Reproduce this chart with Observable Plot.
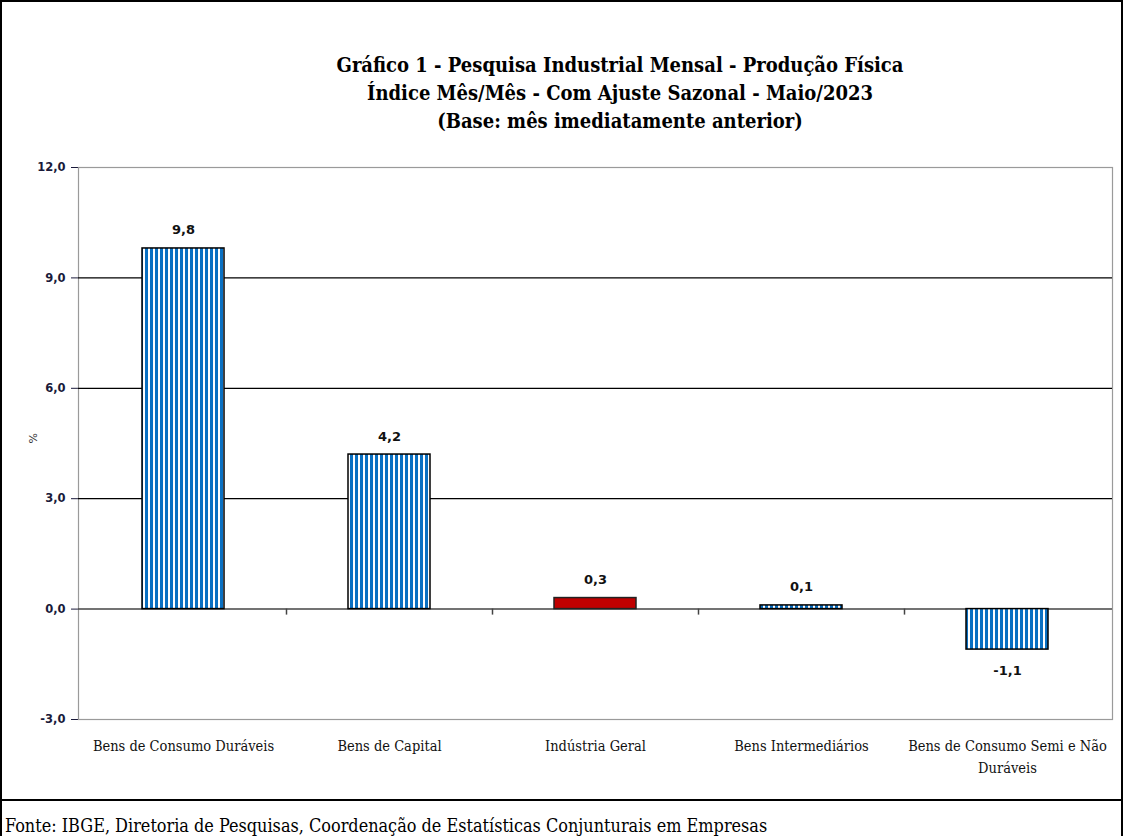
<!DOCTYPE html>
<html>
<head>
<meta charset="utf-8">
<script src="https://cdn.jsdelivr.net/npm/d3@7"></script>
<script src="https://cdn.jsdelivr.net/npm/@observablehq/plot@0.6"></script>
<style>
  html, body { margin: 0; padding: 0; background: #fff; }
  #page { position: relative; width: 1123px; height: 836px; overflow: hidden; background: #fff; }
  #border { position: absolute; left: 0; top: 0; width: 1123px; height: 836px; box-sizing: border-box; border: 2px solid #000; border-bottom: none; pointer-events: none; }
  #title { position: absolute; left: 270px; top: 51px; width: 700px; text-align: center;
    font-family: "DejaVu Serif Condensed", "DejaVu Serif", serif; font-stretch: condensed; font-weight: bold;
    font-size: 20px; line-height: 28px; color: #000; }
  #chart { position: absolute; left: 0; top: 140px; }
  #chart g[aria-label="y-axis tick label"] text { font-weight: bold; }
  #sep { position: absolute; left: 0; top: 799px; width: 1123px; height: 0; border-top: 2px solid #000; }
  #footer { position: absolute; left: 5px; top: 815px; font-family: "DejaVu Serif Condensed", "DejaVu Serif", serif;
    font-stretch: condensed; font-size: 17.9px; color: #000; white-space: nowrap; }
</style>
</head>
<body>
<div id="page">
  <div id="title">Gráfico 1 - Pesquisa Industrial Mensal - Produção Física<br>Índice Mês/Mês - Com Ajuste Sazonal - Maio/2023<br>(Base: mês imediatamente anterior)</div>
  <div id="chart"></div>
  <div id="sep"></div>
  <div id="footer">Fonte: IBGE, Diretoria de Pesquisas, Coordenação de Estatísticas Conjunturais em Empresas</div>
  <div id="border"></div>
</div>
<script>
const categories = ["Bens de Consumo Duráveis", "Bens de Capital", "Indústria Geral", "Bens Intermediários", "Bens de Consumo Semi e Não Duráveis"];
const categoryLabels = ["Bens de Consumo Duráveis", "Bens de Capital", "Indústria Geral", "Bens Intermediários", "Bens de Consumo Semi e Não\nDuráveis"];
const values = [9.8, 4.2, 0.3, 0.1, -1.1];
const highlighted = ["Indústria Geral"];
const yTicks = [-3, 0, 3, 6, 9, 12];
const gridValues = [3, 6, 9];
const yAxisTitle = ["%"];
const boundaries = categories.slice(1);

const data = categories.map((c, i) => ({cat: c, label: categoryLabels[i], value: values[i]}));
const fmt = v => v.toFixed(1).replace(".", ",");

const serif = '"DejaVu Serif Condensed", "DejaVu Serif", serif';

const plot = Plot.plot({
  width: 1123,
  height: 660,
  marginLeft: 78,
  marginRight: 11,
  marginTop: 27,
  marginBottom: 81,
  style: {fontFamily: '"DejaVu Sans", sans-serif', fontSize: "11.5px", color: "#1a1a3a", background: "transparent"},
  x: {domain: categories, paddingInner: 0.6, paddingOuter: 0.3, axis: null},
  y: {domain: [-3, 12], ticks: yTicks, tickFormat: fmt, tickSize: 7, tickPadding: 6, line: true, label: null},
  marks: [
    Plot.frame({stroke: "#9a9a9a", strokeWidth: 1.2}),
    Plot.ruleY(gridValues, {stroke: "#000", strokeWidth: 1.2}),
    Plot.ruleY([0], {stroke: "#444", strokeWidth: 1.5}),
    Plot.ruleX(boundaries, {
      x: d => d, y1: 0, y2: 0, insetBottom: -6, stroke: "#444", strokeWidth: 1.5,
      ariaLabel: "boundary-ticks",
      render(index, scales, values, dimensions, context, next) {
        const g = next(index, scales, values, dimensions, context);
        const s = (scales.scales && scales.scales.x) || {};
        const step = s.step != null ? s.step : (scales.x.step ? scales.x.step() : 0);
        g.setAttribute("transform", `translate(${-step / 2},0) ` + (g.getAttribute("transform") || ""));
        return g;
      }
    }),
    Plot.barY(data.filter(d => !highlighted.includes(d.cat)), {x: "cat", y: "value", fill: "url(#stripes)", stroke: "#000", strokeWidth: 1.5}),
    Plot.barY(data.filter(d => highlighted.includes(d.cat)), {x: "cat", y: "value", fill: "#C00000", stroke: "#222", strokeWidth: 1.5}),
    Plot.text(data.filter(d => d.value >= 0), {x: "cat", y: "value", text: d => fmt(d.value), dy: -14, lineAnchor: "bottom",
      fontWeight: "bold", fontSize: 13, fill: "#111"}),
    Plot.text(data.filter(d => d.value < 0), {x: "cat", y: "value", text: d => fmt(d.value), dy: 16, lineAnchor: "top",
      fontWeight: "bold", fontSize: 13, fill: "#111"}),
    Plot.text(data, {x: "cat", y: yTicks[0], text: "label", dy: 16, lineAnchor: "top", lineHeight: 1.5,
      fontFamily: serif, fontSize: 14.5, fill: "#111"}),
    Plot.text(yAxisTitle, {text: d => d, frameAnchor: "left", dx: -45, rotate: -90, fontSize: 11, fill: "#333"})
  ]
});

const svg = d3.select(plot.tagName.toLowerCase() === "svg" ? plot : plot.querySelector("svg"));
const defs = svg.insert("defs", ":first-child");
const pat = defs.append("pattern").attr("id", "stripes").attr("patternUnits", "userSpaceOnUse")
  .attr("width", 5).attr("height", 10);
pat.append("rect").attr("width", 5).attr("height", 10).attr("fill", "#fff");
pat.append("rect").attr("width", 3).attr("height", 10).attr("fill", "#0a70c2");

const bt = svg.select('[aria-label="boundary-ticks"]');
if (bt.node() && !(bt.attr("transform") || "").includes("translate(-")) {
  const step = plot.scale("x").step;
  bt.attr("transform", `translate(${-step / 2},0) ` + (bt.attr("transform") || ""));
}

document.getElementById("chart").appendChild(plot);
</script>
</body>
</html>
